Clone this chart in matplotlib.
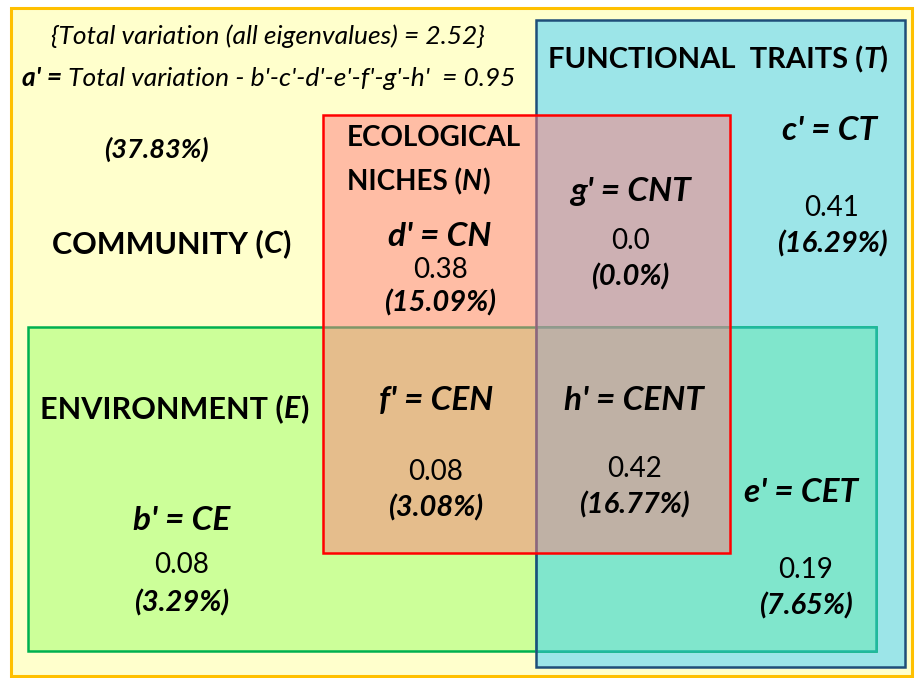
import matplotlib
matplotlib.use("Agg")
import matplotlib.pyplot as plt
from matplotlib.patches import Rectangle

plt.rcParams['font.family'] = ['Lato', 'DejaVu Sans']

# fractions of variation
total_var = "2.52"
a_val = "0.95"
a_pct = "37.83"
part_names = ["b' = CE", "c' = CT", "d' = CN", "e' = CET", "f' = CEN", "g' = CNT", "h' = CENT"]
part_vals = ["0.08", "0.41", "0.38", "0.19", "0.08", "0.0", "0.42"]
part_pcts = ["3.29", "16.29", "15.09", "7.65", "3.08", "0.0", "16.77"]

# layout in pixel coords (x, y of name, y of value, y of percent)
name_xy = [(182, 520), (830, 131), (440, 236), (801, 493), (436, 401), (630, 191), (634, 400)]
val_xy = [(182, 565, 603), (832, 208, 244), (440, 270, 303), (806, 570, 606),
          (436, 472, 508), (630, 241, 277), (634, 469, 505)]

# boxes: x0, y0, x1, y1
box_C = (11, 8, 912, 676)
box_T = (536, 20, 905, 667)
box_E = (28, 327, 876, 651)
box_N = (323, 115, 730, 553)

fig = plt.figure(figsize=(9.16, 6.78), dpi=100)
ax = fig.add_axes([0, 0, 1, 1])
ax.set_xlim(0, 916)
ax.set_ylim(678, 0)
ax.axis('off')
rend = fig.canvas.get_renderer()


def rect(b, **kw):
    return Rectangle((b[0], b[1]), b[2] - b[0], b[3] - b[1], **kw)


ax.add_patch(rect(box_C, facecolor='#FFFFCC', edgecolor='#FFC000', lw=2.2))
ax.add_patch(rect(box_T, facecolor='#9CE5E8', edgecolor='none'))
ax.add_patch(rect(box_E, facecolor='#CCFF99', edgecolor='#00B050', lw=1.8))
ET = (box_T[0], box_E[1], box_E[2], box_E[3])
ax.add_patch(rect(ET, facecolor='#80E6CC', edgecolor='#20B8A0', lw=1.8))
ax.add_patch(rect(box_T, facecolor='none', edgecolor='#1F4E79', lw=1.8))
ax.add_patch(rect(box_N, facecolor=(1.0, 0.49, 0.5, 0.5), edgecolor='none'))
ax.add_patch(rect(box_N, facecolor='none', edgecolor='#FF0000', lw=1.8))


def chain(x, y, parts, size):
    # pieces of one line on a common baseline, different weight / style
    for s, w, st in parts:
        t = ax.text(x, y, s, fontsize=size, fontweight=w, fontstyle=st,
                    ha='left', va='baseline')
        x += t.get_window_extent(rend).width


ax.text(268, 36, "{Total variation (all eigenvalues) = " + total_var + "}",
        fontsize=19, fontstyle='italic', ha='center', va='center')
chain(22, 86, [("a' =", 'bold', 'italic'),
               (" Total variation - b'-c'-d'-e'-f'-g'-h'  = " + a_val, 'normal', 'italic')], 19)
ax.text(156, 149, "(" + a_pct + "%)", fontsize=19.5, fontweight='bold',
        fontstyle='italic', ha='center', va='center')

chain(52, 253, [("COMMUNITY (", 'bold', 'normal'), ("C", 'bold', 'italic'),
                (")", 'bold', 'normal')], 22)
chain(40, 418, [("ENVIRONMENT (", 'bold', 'normal'), ("E", 'bold', 'italic'),
                (")", 'bold', 'normal')], 22)
chain(548, 68, [("FUNCTIONAL  TRAITS (", 'bold', 'normal'), ("T", 'bold', 'italic'),
                (")", 'bold', 'normal')], 21)
chain(347, 146, [("ECOLOGICAL", 'bold', 'normal')], 20)
chain(347, 190, [("NICHES (", 'bold', 'normal'), ("N", 'bold', 'italic'),
                 (")", 'bold', 'normal')], 20)

for name, v, p, (nx, ny), (vx, vy, py) in zip(part_names, part_vals, part_pcts, name_xy, val_xy):
    ax.text(nx, ny, name, fontsize=24, fontweight='bold', fontstyle='italic',
            ha='center', va='center')
    ax.text(vx, vy, v, fontsize=20, ha='center', va='center')
    ax.text(vx, py, "(" + p + "%)", fontsize=21, fontweight='bold',
            fontstyle='italic', ha='center', va='center')

fig.savefig("out.png", dpi=100, facecolor='white')
